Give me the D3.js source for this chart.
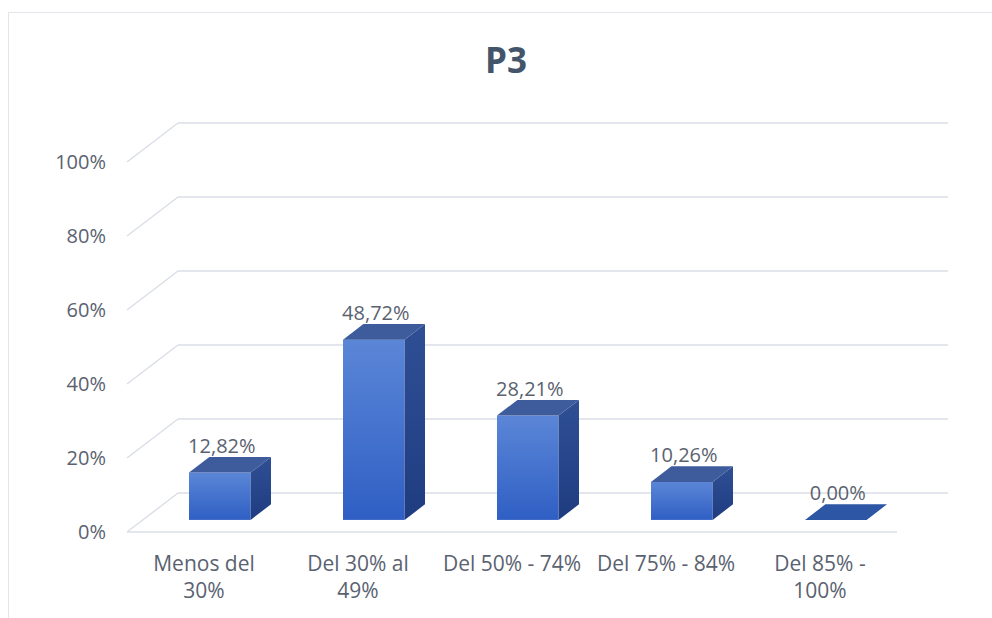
<!DOCTYPE html>
<meta charset="utf-8">
<head>
<script src="https://d3js.org/d3.v7.min.js"></script>
<style>
  body { margin: 0; background: #fff; }
  text { font-family: "Open Sans", sans-serif; }
</style>
</head>
<body>
<svg id="chart" width="992" height="618"></svg>

<script>
// data
var categories = ["Menos del 30%", "Del 30% al 49%", "Del 50% - 74%", "Del 75% - 84%", "Del 85% - 100%"];
var values = [12.82, 48.72, 28.21, 10.26, 0.00];
var yTicks = [0, 20, 40, 60, 80, 100];

var svg = d3.select("#chart");

// comma decimal like the original
var locale = d3.formatLocale({ decimal: ",", thousands: ".", grouping: [3], currency: ["", "€"] });
var fmtVal = locale.format(".2f");

// chart border
svg.append("rect")
  .attr("x", 8.5).attr("y", 12.5)
  .attr("width", 1000).attr("height", 700)
  .attr("fill", "#fff")
  .attr("stroke", "#e2e5ea");

// title
svg.append("text")
  .attr("x", 506).attr("y", 73)
  .attr("text-anchor", "middle")
  .attr("font-size", 35)
  .attr("font-weight", 700)
  .attr("fill", "#44546a")
  .text("P3");

// scales
var x = d3.scaleBand().domain(categories).range([127, 897]);
var y = d3.scaleLinear().domain([0, 100]).range([532, 162]);

// 3d depth of the plot floor
var depth = { dx: 51, dy: -39 };
var barFront = 0.31, barDepth = 0.4;
var barW = x.bandwidth() * 0.4;

var grid = svg.append("g")
  .attr("stroke", "#dadee6")
  .attr("stroke-width", 1.4)
  .attr("fill", "none");

// back wall lines
grid.selectAll(".back")
  .data(yTicks)
  .enter().append("line")
    .attr("x1", x.range()[0] + depth.dx)
    .attr("x2", x.range()[1] + depth.dx)
    .attr("y1", function(d) { return y(d) + depth.dy; })
    .attr("y2", function(d) { return y(d) + depth.dy; });

// side wall diagonals
grid.selectAll(".side")
  .data(yTicks)
  .enter().append("line")
    .attr("x1", x.range()[0])
    .attr("x2", x.range()[0] + depth.dx)
    .attr("y1", function(d) { return y(d); })
    .attr("y2", function(d) { return y(d) + depth.dy; });

// front edge of the floor
grid.append("line")
  .attr("x1", x.range()[0]).attr("x2", x.range()[1])
  .attr("y1", y(0)).attr("y2", y(0));

// gradients
var defs = svg.append("defs");
var gFront = defs.append("linearGradient").attr("id", "gFront")
  .attr("x1", 0).attr("y1", 0).attr("x2", 0).attr("y2", 1);
gFront.append("stop").attr("offset", "0%").attr("stop-color", "#5b86d7");
gFront.append("stop").attr("offset", "100%").attr("stop-color", "#2f5fc4");
var gSide = defs.append("linearGradient").attr("id", "gSide")
  .attr("x1", 0).attr("y1", 0).attr("x2", 0).attr("y2", 1);
gSide.append("stop").attr("offset", "0%").attr("stop-color", "#2f4f95");
gSide.append("stop").attr("offset", "100%").attr("stop-color", "#1f3c80");

var ddx = depth.dx * barDepth, ddy = depth.dy * barDepth;

function barGeom(c, v) {
  var x0 = x(c) + x.bandwidth() / 2 - barW / 2 + depth.dx * barFront;
  var yb = y(0) + depth.dy * barFront;
  var yt = yb - (y(0) - y(v));
  return { x0: x0, yb: yb, yt: yt };
}

var bars = svg.append("g").selectAll("g")
  .data(categories.map(function(c, i) { return { c: c, v: values[i] }; }))
  .enter().append("g");

bars.each(function(d) {
  var g = d3.select(this), b = barGeom(d.c, d.v);
  if (d.v > 0) {
    g.append("rect")
      .attr("x", b.x0).attr("y", b.yt)
      .attr("width", barW).attr("height", b.yb - b.yt)
      .attr("fill", "url(#gFront)");
    g.append("path")
      .attr("d", "M" + [b.x0 + barW, b.yb] + "L" + [b.x0 + barW, b.yt] +
        "L" + [b.x0 + barW + ddx, b.yt + ddy] + "L" + [b.x0 + barW + ddx, b.yb + ddy] + "Z")
      .attr("fill", "url(#gSide)");
  }
  g.append("path")
    .attr("d", "M" + [b.x0, b.yt] + "L" + [b.x0 + barW, b.yt] +
      "L" + [b.x0 + barW + ddx, b.yt + ddy] + "L" + [b.x0 + ddx, b.yt + ddy] + "Z")
    .attr("fill", d.v > 0 ? "#3e5b9c" : "#2d56a5");

  // value label
  g.append("text")
    .attr("x", b.x0 + barW / 2 + 2)
    .attr("y", b.yt + ddy - 4)
    .attr("text-anchor", "middle")
    .attr("font-size", 20)
    .attr("fill", "#5a6270")
    .text(fmtVal(d.v) + "%");
});

// y axis
var yAxis = svg.append("g")
  .attr("transform", "translate(106,0)")
  .call(d3.axisLeft(y).tickValues(yTicks).tickSize(0).tickPadding(0)
    .tickFormat(function(d) { return d + "%"; }));
yAxis.select(".domain").remove();
yAxis.selectAll("text")
  .attr("font-size", 20)
  .attr("font-family", "Open Sans, sans-serif")
  .attr("fill", "#5a6270");

// x axis
var xAxis = svg.append("g")
  .attr("transform", "translate(0," + y(0) + ")")
  .call(d3.axisBottom(x).tickSize(0).tickPadding(24));
xAxis.select(".domain").remove();
xAxis.selectAll("text")
  .attr("font-size", 21)
  .attr("font-family", "Open Sans, sans-serif")
  .attr("fill", "#5a6270")
  .call(wrap, 140);

function wrap(text, width) {
  text.each(function() {
    var text = d3.select(this),
        words = text.text().split(/\s+/).reverse(),
        word, line = [], lineNumber = 0,
        lineHeight = 1.3,
        yy = text.attr("y"),
        dy = parseFloat(text.attr("dy")),
        tspan = text.text(null).append("tspan").attr("x", 0).attr("y", yy).attr("dy", dy + "em");
    while (word = words.pop()) {
      line.push(word);
      tspan.text(line.join(" "));
      if (tspan.node().getComputedTextLength() > width && line.length > 1) {
        line.pop();
        tspan.text(line.join(" "));
        line = [word];
        tspan = text.append("tspan").attr("x", 0).attr("y", yy)
          .attr("dy", ++lineNumber * lineHeight + dy + "em").text(word);
      }
    }
  });
}
</script>
</body>
</html>
